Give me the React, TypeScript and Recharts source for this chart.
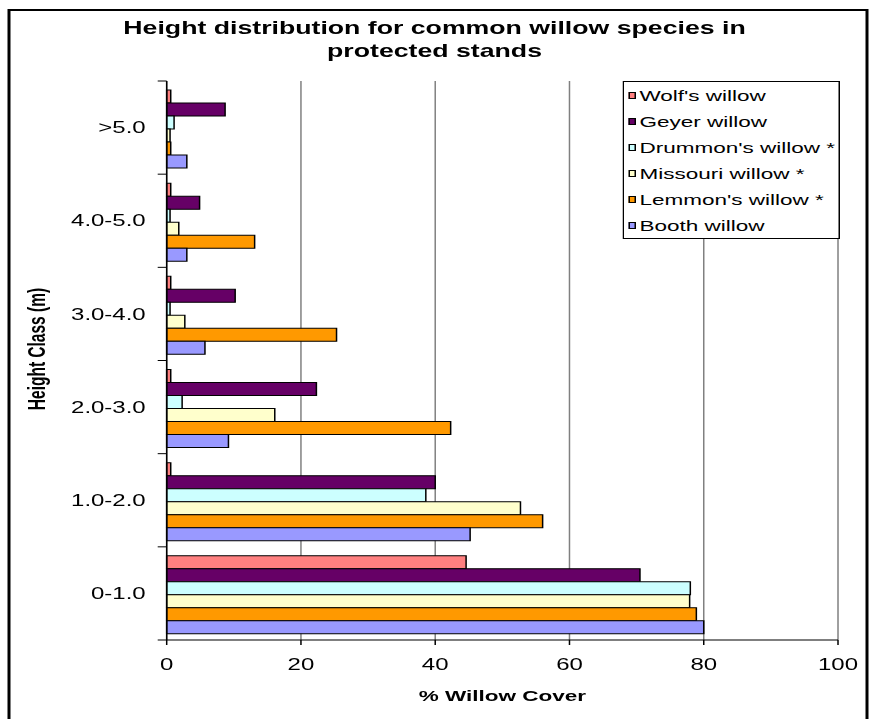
import { BarChart, Bar, XAxis, YAxis, CartesianGrid, Legend } from 'recharts';

// Height classes, listed top to bottom as they appear on the axis
const heightClasses = ['>5.0', '4.0-5.0', '3.0-4.0', '2.0-3.0', '1.0-2.0', '0-1.0'];

// % willow cover per height class, one array per species
const wolfs = [0.6, 0.6, 0.6, 0.6, 0.6, 44.6];
const geyer = [8.7, 4.9, 10.2, 22.3, 40.0, 70.5];
const drummonds = [1.1, 0.5, 0.5, 2.3, 38.6, 78.0];
const missouri = [0.5, 1.8, 2.7, 16.1, 52.7, 77.9];
const lemmons = [0.6, 13.1, 25.3, 42.3, 56.0, 78.9];
const booth = [3.0, 3.0, 5.7, 9.2, 45.2, 80.0];

const seriesKeys = ['wolfs', 'geyer', 'drummonds', 'missouri', 'lemmons', 'booth'];
const seriesNames = [
  "Wolf's willow",
  'Geyer willow',
  "Drummon's willow *",
  'Missouri willow *',
  "Lemmon's willow *",
  'Booth willow',
];
const seriesColors = ['#FF8080', '#660066', '#CCFFFF', '#FFFFCC', '#FF9900', '#9999FF'];
const seriesValues = [wolfs, geyer, drummonds, missouri, lemmons, booth];

const coverTicks = [0, 20, 40, 60, 80, 100];

const data = heightClasses.map((cls, i) => {
  const row: Record<string, string | number> = { cls };
  seriesKeys.forEach((key, j) => {
    row[key] = seriesValues[j][i];
  });
  return row;
});

// The whole chart is laid out narrow and then stretched sideways
const STRETCH = 1.5;
const CHART_W = 583;
const CHART_H = 719;
const FONT = "'Liberation Sans', Arial, Helvetica, sans-serif";

const TICK_SIZE = 6;
const TICK_MARGIN = 8;

// Category labels with tick marks on the band edges rather than the centres
function ClassTick(props: any) {
  const { x, y, payload } = props;
  const axisX = x + TICK_SIZE + TICK_MARGIN;
  const half = payload.offset ?? 0;
  const isLast = payload.value === heightClasses[heightClasses.length - 1];
  return (
    <g>
      <line x1={axisX - TICK_SIZE} x2={axisX} y1={y - half} y2={y - half} stroke="#000" />
      {isLast && (
        <line x1={axisX - TICK_SIZE} x2={axisX} y1={y + half} y2={y + half} stroke="#000" />
      )}
      <text x={x} y={y} dy="0.355em" textAnchor="end" fontSize={16} fill="#000">
        {payload.value}
      </text>
    </g>
  );
}

// Legend box keeps the series order (the default payload gets sorted)
function SpeciesLegend() {
  return (
    <div
      style={{
        boxSizing: 'border-box',
        border: '1px solid #000',
        background: '#fff',
        width: '100%',
        height: 158,
        fontFamily: FONT,
        fontSize: 15,
        color: '#000',
      }}
    >
      {seriesNames.map((name, i) => (
        <div
          key={name}
          style={{ display: 'flex', alignItems: 'center', height: 26, whiteSpace: 'nowrap' }}
        >
          <span
            style={{
              display: 'inline-block',
              boxSizing: 'border-box',
              width: 4.8,
              height: 7,
              marginLeft: 2.7,
              marginRight: 2.7,
              background: seriesColors[i],
              border: '1px solid #000',
            }}
          />
          <span>{name}</span>
        </div>
      ))}
    </div>
  );
}

export default function App() {
  return (
    <div
      style={{
        position: 'fixed',
        left: 0,
        top: 0,
        width: 874,
        height: 719,
        overflow: 'hidden',
        background: '#fff',
        fontFamily: FONT,
      }}
    >
      <div
        style={{
          position: 'absolute',
          left: 0,
          top: 0,
          width: CHART_W,
          height: CHART_H,
          transform: `scaleX(${STRETCH})`,
          transformOrigin: '0 0',
        }}
      >
        <div
          style={{
            position: 'absolute',
            left: 5,
            top: 8.5,
            width: 574.3,
            height: 730,
            boxSizing: 'border-box',
            border: '2px solid #000',
          }}
        />
        <div
          style={{
            position: 'absolute',
            left: 0,
            top: 17.2,
            width: 579.4,
            textAlign: 'center',
            fontWeight: 'bold',
            fontSize: 17.8,
            lineHeight: '23px',
            color: '#000',
          }}
        >
          Height distribution for common willow species in
          <br />
          protected stands
        </div>
        <div style={{ position: 'absolute', left: 0, top: 0 }}>
          <BarChart
            width={CHART_W}
            height={CHART_H}
            data={data}
            layout="vertical"
            barCategoryGap={9}
            barGap={0}
            margin={{ top: 81, right: 24.33, bottom: 49, left: 0 }}
          >
            <CartesianGrid horizontal={false} stroke="#808080" />
            <XAxis
              type="number"
              domain={[0, 100]}
              ticks={coverTicks}
              interval={0}
              height={30}
              tickSize={5}
              tickMargin={14}
              tick={{ fontSize: 16, fill: '#000' }}
              axisLine={{ stroke: '#000' }}
              tickLine={{ stroke: '#000' }}
            />
            <XAxis
              xAxisId="top"
              orientation="top"
              type="number"
              domain={[0, 100]}
              height={0}
              tick={false}
              tickLine={false}
              axisLine={{ stroke: '#808080' }}
            />
            <YAxis
              type="category"
              dataKey="cls"
              width={111.13}
              interval={0}
              tickSize={TICK_SIZE}
              tickMargin={TICK_MARGIN}
              tickLine={false}
              axisLine={{ stroke: '#000' }}
              tick={<ClassTick />}
            />
            <Legend
              layout="vertical"
              align="center"
              verticalAlign="middle"
              wrapperStyle={{ top: 81, left: 415.1, width: 145.4, height: 158 }}
              content={<SpeciesLegend />}
            />
            {seriesKeys.map((key, i) => (
              <Bar
                key={key}
                dataKey={key}
                name={seriesNames[i]}
                fill={seriesColors[i]}
                stroke="#000"
                strokeWidth={1}
                isAnimationActive={false}
              />
            ))}
          </BarChart>
        </div>
        <div
          style={{
            position: 'absolute',
            left: 111.13,
            top: 687,
            width: 447.54,
            textAlign: 'center',
            fontWeight: 'bold',
            fontSize: 15,
            lineHeight: '18px',
            color: '#000',
          }}
        >
          % Willow Cover
        </div>
        <div
          style={{
            position: 'absolute',
            left: 24.7 - 100,
            top: 349 - 10,
            width: 200,
            height: 20,
            lineHeight: '20px',
            textAlign: 'center',
            fontWeight: 'bold',
            fontSize: 15.5,
            color: '#000',
            transform: 'rotate(-90deg)',
          }}
        >
          Height Class (m)
        </div>
      </div>
    </div>
  );
}
